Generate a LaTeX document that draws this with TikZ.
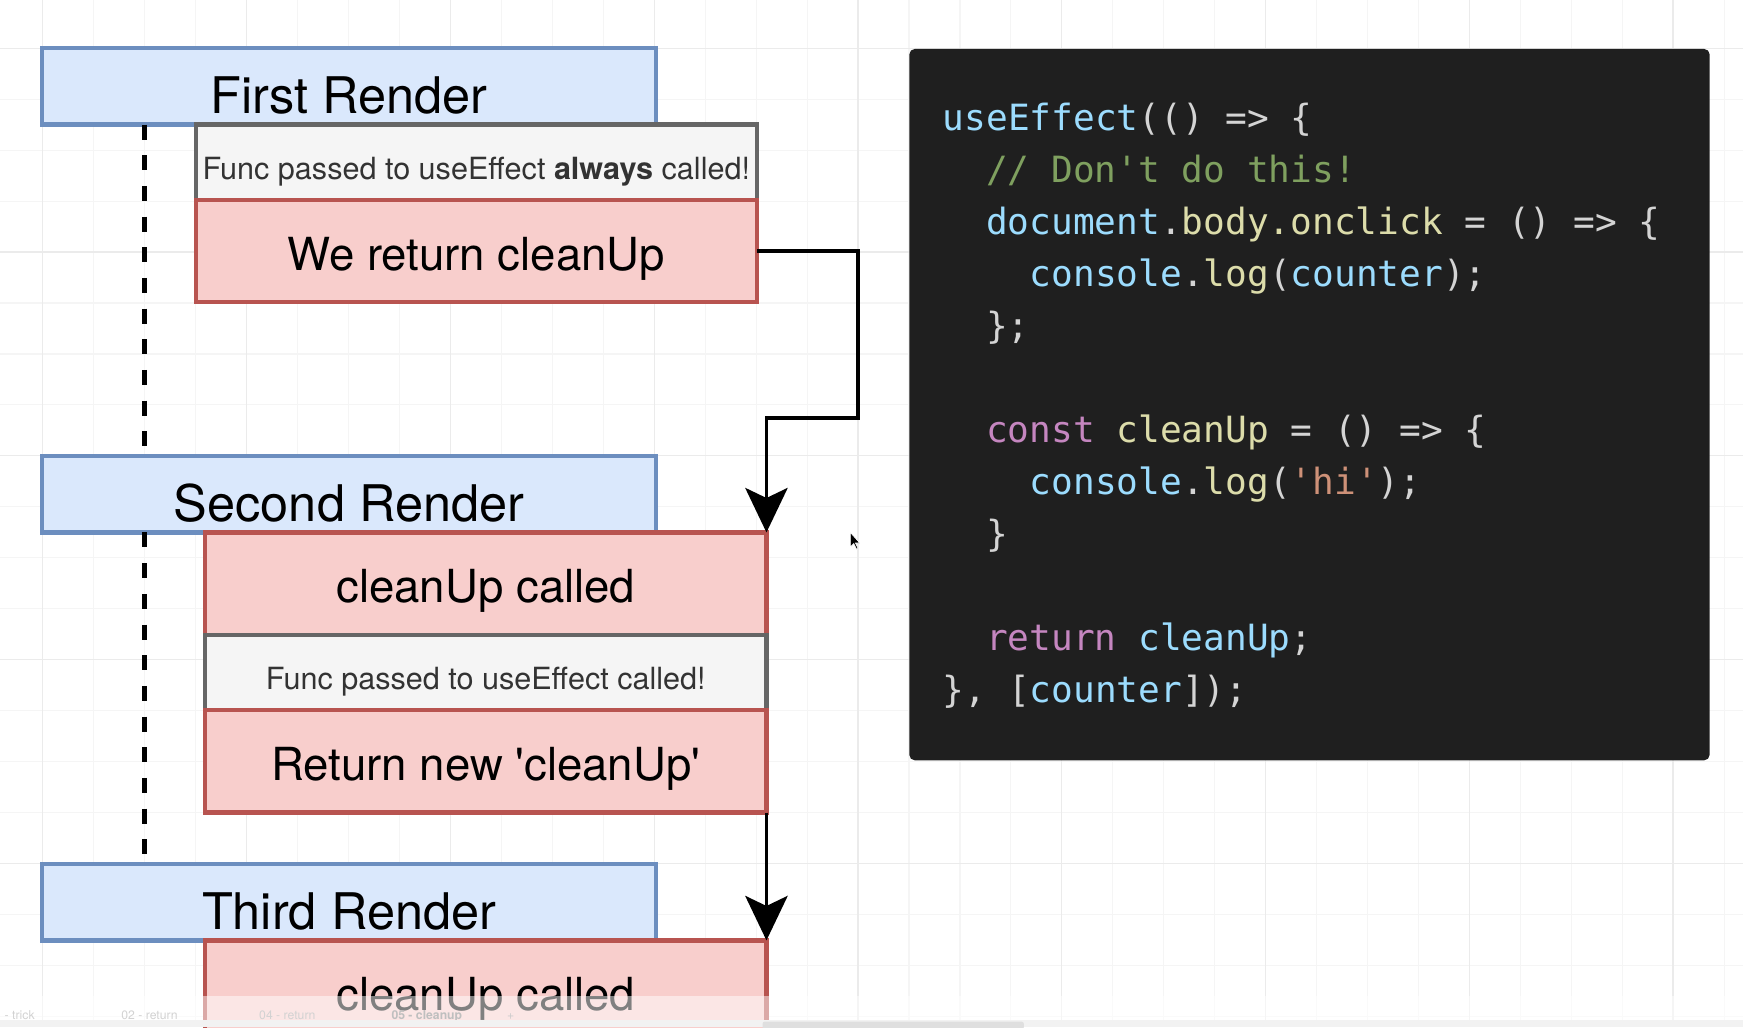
\documentclass[tikz,border=0pt]{standalone}
\usepackage{fontspec}
\setmainfont{TeX Gyre Heros}[Ligatures=TeXOff]
\newfontfamily\codefont{DejaVu Sans Mono}[WordSpace={1,0,0},Ligatures=TeXOff]
\usetikzlibrary{arrows.meta, positioning}

\definecolor{rndfill}{HTML}{DAE8FC}
\definecolor{rnddraw}{HTML}{6C8EBF}
\definecolor{redfill}{HTML}{F8CECC}
\definecolor{reddraw}{HTML}{B85450}
\definecolor{grayfill}{HTML}{F5F5F5}
\definecolor{graydraw}{HTML}{666666}
\definecolor{txtgray}{HTML}{333333}
\definecolor{codebg}{HTML}{1F1F1F}
\definecolor{cdplain}{HTML}{D4D4D4}
\definecolor{cdvar}{HTML}{9CDCFE}
\definecolor{cdfunc}{HTML}{DCDCAA}
\definecolor{cdcomm}{HTML}{7FA05F}
\definecolor{cdkey}{HTML}{C586C0}
\definecolor{cdstr}{HTML}{CE9178}
\definecolor{gridminor}{HTML}{F5F5F5}
\definecolor{gridmajor}{HTML}{EBEBEB}

\tikzset{
  render/.style={draw=rnddraw, fill=rndfill, line width=3.8pt, inner sep=0pt, outer sep=0pt,
    minimum width=552pt, minimum height=69pt, text height=59pt, text depth=10pt,
    font=\fontsize{45.4}{50}\selectfont},
  funcbox/.style={draw=graydraw, fill=grayfill, line width=3.8pt, inner sep=0pt, outer sep=0pt,
    minimum width=505pt, minimum height=68pt, text height=49.5pt, text depth=18.5pt,
    text=txtgray, font=\fontsize{27.5}{30}\selectfont},
  redbox/.style={draw=reddraw, fill=redfill, line width=3.8pt, inner sep=0pt, outer sep=0pt,
    minimum width=505pt, minimum height=92pt, text height=63pt, text depth=29pt,
    font=\fontsize{41}{45}\selectfont},
  lifeline/.style={line width=4.2pt, dash pattern=on 13.5pt off 14.1pt},
  flow/.style={-{Stealth[length=40pt, width=38pt, inset=9pt]}, line width=3.5pt},
  codeline/.style={anchor=base west, inner sep=0pt, text=cdplain,
    font=\codefont\fontsize{32.5}{40}\selectfont},
  tabtxt/.style={anchor=base west, inner sep=0pt, font=\fontsize{11}{12}\selectfont}
}

\begin{document}
\begin{tikzpicture}[x=1pt, y=-1pt]
  \useasboundingbox (0,0) rectangle (1568,924);
  \clip (0,0) rectangle (1568,924);
  \fill[white] (0,0) rectangle (1568,924);
  % background grid
  \foreach \i in {0,...,34} {
    \draw[gridminor, line width=1pt] ({-7.2+45.83*\i},0) -- ({-7.2+45.83*\i},924);
  }
  \foreach \j in {0,...,20} {
    \draw[gridminor, line width=1pt] (0,{-2.4+45.83*\j}) -- (1568,{-2.4+45.83*\j});
  }
  \foreach \k in {0,...,8} {
    \draw[gridmajor, line width=1pt] ({38.6+183.3*\k},0) -- ({38.6+183.3*\k},924);
  }
  \foreach \k in {0,...,4} {
    \draw[gridmajor, line width=1pt] (0,{43.4+183.3*\k}) -- (1568,{43.4+183.3*\k});
  }

  % renders
  \node[render] (r1) at (314,77.5) {First Render};
  \node[render] (r2) at (314,444.5) {Second Render};
  \node[render] (r3) at (314,811.5) {Third Render};

  \coordinate (lx) at (130,0);
  \draw[lifeline] (r1.south -| lx) -- (r2.north -| lx);
  \draw[lifeline] (r2.south -| lx) -- (r3.north -| lx);

  % first render
  \node[funcbox] (f1) at (428.5,146) {Func passed to useEffect \textbf{always} called!};
  \node[redbox, below=0pt of f1] (t1) {We return cleanUp};

  % second render
  \node[redbox] (c2) at (437,525) {cleanUp called};
  \node[funcbox, below=0pt of c2] (f2) {Func passed to useEffect called!};
  \node[redbox, below=0pt of f2] (t2) {Return new 'cleanUp'};

  % third render
  \node[redbox] (c3) at (437,892) {cleanUp called};

  \draw[flow] (t1.east) -| (772,376) -| (c2.north east);
  \draw[flow] (t2.south east) -- (c3.north east);

  % mouse pointer
  \fill[black, draw=white, line width=0.6pt] (765,479) -- (765,492) -- (768,489)
    -- (770.5,494) -- (772,493.3) -- (769.6,488.5) -- (773.5,488.5) -- cycle;

  % code
  \node[fill=codebg, rounded corners=5pt, minimum width=720pt, minimum height=640pt,
    inner sep=0pt] (code) at (1178,364) {};
  \node[codeline] (cl1) at (848,117.5) {\textcolor{cdvar}{useEffect}(() => \{};
  \node[codeline] (cl2) at (887,164.3) {\textcolor{cdcomm}{// Don't do this!}};
  \node[codeline] (cl3) at (887,211.1) {\textcolor{cdvar}{document}.\textcolor{cdfunc}{body.onclick} = () => \{};
  \node[codeline] (cl4) at (926.3,257.9) {\textcolor{cdvar}{console}.\textcolor{cdfunc}{log}(\textcolor{cdvar}{counter});};
  \node[codeline] (cl5) at (887,304.7) {\};};
  \node[codeline] (cl6) at (887,398.3) {\textcolor{cdkey}{const} \textcolor{cdfunc}{cleanUp} = () => \{};
  \node[codeline] (cl7) at (926.3,445.1) {\textcolor{cdvar}{console}.\textcolor{cdfunc}{log}(\textcolor{cdstr}{'hi'});};
  \node[codeline] (cl8) at (887,491.9) {\}};
  \node[codeline] (cl9) at (887,585.5) {\textcolor{cdkey}{return} \textcolor{cdvar}{cleanUp};};
  \node[codeline] (cl10) at (848,632.3) {\}, [\textcolor{cdvar}{counter}]);};

  % tab bar
  \fill[white, opacity=0.5] (0,896) rectangle (1568,918);
  \node[tabtxt, gray!35] (tb1) at (4,917) {- trick};
  \node[tabtxt, gray!35] (tb2) at (109,917) {02 - return};
  \node[tabtxt, gray!35] (tb3) at (233,917) {04 - return};
  \node[tabtxt, gray!50] (tb4) at (352,917) {\textbf{05 - cleanup}};
  \node[tabtxt, gray!40] (tb5) at (456,917) {+};
  \fill[gray!10] (0,918) rectangle (1568,924);
  \fill[gray!25, rounded corners=2pt] (686,919) rectangle (921,926);
\end{tikzpicture}
\end{document}
